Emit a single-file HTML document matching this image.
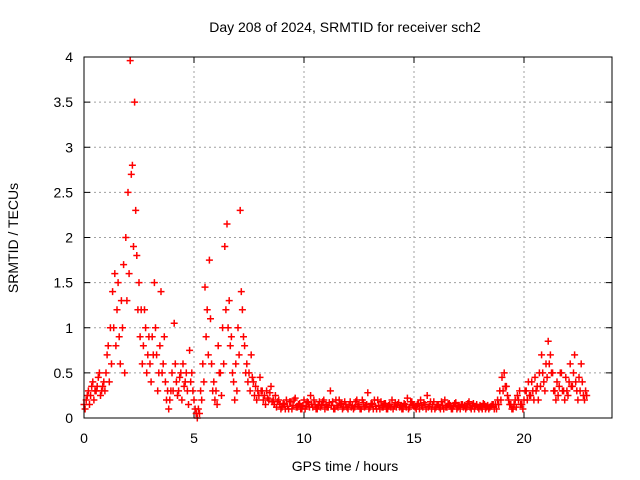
<!DOCTYPE html>
<html><head><meta charset="utf-8"><style>
body{margin:0;background:#fff;}
svg{display:block;font-family:"Liberation Sans",sans-serif;}
</style></head><body>
<svg id="chart" width="640" height="480">
<text x="345" y="32" font-size="14" text-anchor="middle">Day 208 of 2024, SRMTID for receiver sch2</text>
<text x="345" y="471" font-size="14" text-anchor="middle">GPS time / hours</text>
<text transform="translate(18,238) rotate(-90)" font-size="14" text-anchor="middle">SRMTID / TECUs</text>
<g id="grid"></g><g id="marks"></g>
<rect x="84" y="57" width="528" height="361" fill="none" stroke="#000" stroke-width="1"/>
</svg>
<script>
const xTicks=[0,5,10,15,20];
const yTicks=[0,0.5,1,1.5,2,2.5,3,3.5,4];
const yTickLabels=["0","0.5","1","1.5","2","2.5","3","3.5","4"];
const startA=0.0, stepA=0.1;
const seriesA=[0.15,0.2,0.3,0.25,0.4,0.3,0.35,0.5,0.3,0.4,
0.5,0.8,1.0,1.4,1.6,1.2,0.9,1.3,1.7,2.0,
2.5,3.96,2.8,3.5,1.8,1.5,1.2,0.8,1.0,0.7,
0.6,0.9,1.5,0.7,0.5,1.4,0.6,0.4,0.3,0.2,
0.5,1.05,0.4,0.3,0.5,0.6,0.4,0.3,0.75,0.5,
0.2,0.05,0.1,0.3,0.6,1.45,1.2,1.75,0.6,0.4,
0.3,0.8,0.5,1.0,1.9,2.15,1.3,0.9,0.4,0.6,
1.0,2.3,1.2,0.8,0.6,0.5,0.7,0.4,0.35,0.3,
0.45,0.3,0.25,0.3,0.2,0.35,0.2,0.25,0.18,0.15,
0.12,0.15,0.2,0.1,0.18,0.14,0.22,0.12,0.16,0.1,
0.2,0.13,0.17,0.25,0.12,0.15,0.1,0.18,0.14,0.2,
0.15,0.12,0.3,0.18,0.1,0.14,0.2,0.16,0.12,0.15,
0.1,0.18,0.14,0.12,0.2,0.15,0.1,0.17,0.13,0.28,
0.12,0.15,0.2,0.1,0.14,0.18,0.12,0.16,0.1,0.15,
0.2,0.13,0.12,0.17,0.14,0.1,0.15,0.22,0.12,0.18,
0.14,0.1,0.16,0.2,0.12,0.15,0.25,0.13,0.1,0.18,
0.12,0.15,0.1,0.14,0.2,0.12,0.16,0.1,0.13,0.17,
0.12,0.1,0.15,0.14,0.12,0.18,0.1,0.16,0.13,0.12,
0.14,0.1,0.15,0.12,0.1,0.13,0.15,
0.15,0.2,0.3,0.45,0.5,0.35,0.2,0.15,0.1,0.2,
0.25,0.3,0.15,0.2,0.3,0.4,0.25,0.3,0.45,0.35,
0.5,0.7,0.4,0.6,0.85,0.7,0.5,0.3,0.4,0.35,
0.5,0.3,0.45,0.25,0.6,0.35,0.7,0.3,0.45,0.6,0.25,0.3];
const startB=0.05, stepB=0.1;
const seriesB=[0.1,0.25,0.15,0.35,0.2,0.3,0.45,0.25,0.35,0.3,
0.7,0.4,0.6,1.0,0.8,1.5,0.6,1.0,0.5,1.3,
1.6,2.7,1.9,2.3,1.2,0.9,0.6,1.2,0.5,0.9,
0.4,0.7,1.0,0.3,0.8,0.5,0.9,0.2,0.1,0.3,
0.3,0.6,0.25,0.45,0.2,0.35,0.5,0.15,0.4,0.3,
0.1,0.0,0.05,0.2,0.4,0.9,0.7,1.1,0.3,0.2,
0.15,0.5,0.25,0.6,1.2,1.0,0.8,0.5,0.2,0.3,
0.7,1.4,0.9,0.5,0.4,0.3,0.45,0.25,0.2,0.25,
0.3,0.2,0.15,0.22,0.28,0.18,0.15,0.12,0.2,0.1,
0.16,0.1,0.13,0.18,0.1,0.2,0.12,0.15,0.1,0.14,
0.1,0.18,0.12,0.15,0.2,0.1,0.14,0.12,0.18,0.1,
0.12,0.17,0.14,0.1,0.2,0.12,0.15,0.1,0.18,0.12,
0.15,0.12,0.1,0.18,0.13,0.1,0.2,0.12,0.15,0.1,
0.16,0.1,0.13,0.2,0.1,0.12,0.16,0.1,0.14,0.12,
0.1,0.17,0.15,0.12,0.1,0.16,0.12,0.1,0.18,0.14,
0.12,0.15,0.1,0.14,0.17,0.1,0.12,0.18,0.15,0.1,
0.15,0.12,0.18,0.1,0.12,0.15,0.14,0.1,0.16,0.1,
0.14,0.15,0.12,0.1,0.16,0.12,0.14,0.1,0.15,0.1,
0.12,0.16,0.1,0.14,0.12,0.15,0.1,
0.1,0.15,0.2,0.3,0.35,0.25,0.15,0.1,0.15,0.12,
0.2,0.15,0.1,0.3,0.2,0.25,0.4,0.2,0.3,0.2,
0.35,0.5,0.3,0.45,0.6,0.5,0.3,0.2,0.25,0.5,
0.3,0.2,0.3,0.4,0.35,0.5,0.4,0.2,0.3,0.4,0.2,0.25];
const X0=84,X1=612,Y0=418,Y1=57;
const xs=v=>X0+v*(X1-X0)/24;
const ys=v=>Y0-v*(Y0-Y1)/4;
const NS="http://www.w3.org/2000/svg";
const grid=document.getElementById('grid'), marks=document.getElementById('marks');
function mk(t,a,p){const e=document.createElementNS(NS,t);for(const k in a)e.setAttribute(k,a[k]);p.appendChild(e);return e;}
yTicks.forEach((v,i)=>{const y=ys(v);
 if(i>0&&i<yTicks.length-1){const g=mk('line',{x1:X0,x2:X1,y1:y,y2:y,stroke:'#a0a0a0','stroke-dasharray':'2,3'},grid);
 
 }
 mk('line',{x1:X0,x2:X0+6,y1:y,y2:y,stroke:'#000'},grid);
 mk('line',{x1:X1,x2:X1-6,y1:y,y2:y,stroke:'#000'},grid);
 const t=mk('text',{x:73,y:y+5,'font-size':14,'text-anchor':'end'},grid);t.textContent=yTickLabels[i];
 
 });
xTicks.forEach(v=>{const x=xs(v);
 if(v>0){const g=mk('line',{x1:x,x2:x,y1:Y0,y2:Y1,stroke:'#a0a0a0','stroke-dasharray':'2,3'},grid);
 
 }
 mk('line',{x1:x,x2:x,y1:Y0,y2:Y0-6,stroke:'#000'},grid);
 mk('line',{x1:x,x2:x,y1:Y1,y2:Y1+6,stroke:'#000'},grid);
 const t=mk('text',{x:x,y:443,'font-size':14,'text-anchor':'middle'},grid);t.textContent=String(v);
 
 });
function plot(arr,start,step){
 let d='';
 arr.forEach((v,i)=>{const x=xs(start+i*step),y=ys(v);
  d+=`M${x-3.5},${y}H${x+3.5}M${x},${y-3.5}V${y+3.5}`;});
 const p=mk('path',{d:d,stroke:'#f00','stroke-width':1.5,fill:'none'},marks);
 
 
}
plot(seriesA,startA,stepA);
plot(seriesB,startB,stepB);
</script>
</body></html>
